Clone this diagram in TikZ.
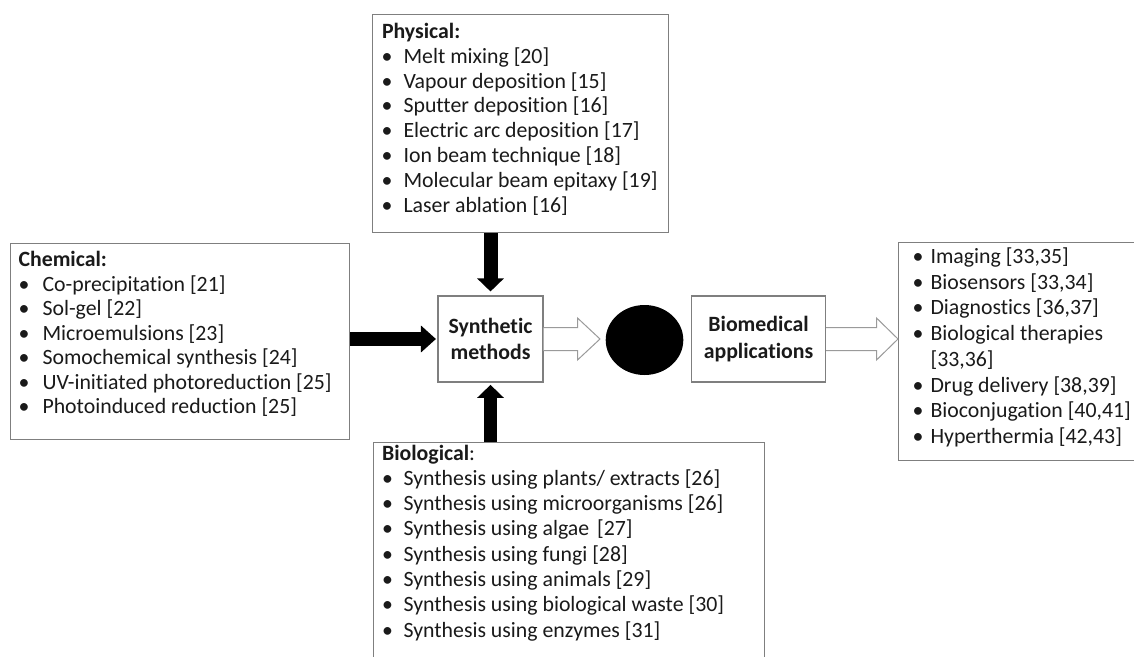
\documentclass[tikz,border=0pt]{standalone}
\usepackage{fontspec}
\setmainfont{Carlito}[Ligatures=NoCommon]
\usetikzlibrary{arrows.meta,calc,shapes.geometric}
\definecolor{bordc}{HTML}{7F7F7F}
\definecolor{arrc}{HTML}{9A9A9A}
\definecolor{txtc}{HTML}{1A1A1A}
\newcommand{\itm}[3]{\mbox{\makebox[#2][l]{\hspace*{#1}\textbullet}#3}\par}
\newcommand{\boxtext}[4]{\parbox[t][#2][t]{#1}{\fontsize{21.8pt}{#3}\selectfont\parindent=0pt\parskip=0pt\raggedright #4}}
\begin{document}
\begin{tikzpicture}[x=1pt,y=-1pt,
  every node/.style={text=txtc},
  box/.style={draw=bordc, line width=1.1pt, inner sep=0pt, anchor=north west, fill=white},
  mid/.style={draw=bordc, line width=1.1pt, inner sep=0pt, align=center, fill=white,
    font=\fontsize{21.8pt}{26.5pt}\selectfont\bfseries},
  solidarrow/.style={line width=14pt, draw=black, -{Triangle[width=26pt,length=13pt]}},
  hollow/.style={draw=arrc, line width=1pt, fill=white, line join=miter}]
\useasboundingbox (0,0) rectangle (1134,656);
\clip (0,0) rectangle (1134,656);

\node[box] (phys) at (372,14) {\boxtext{296pt}{218pt}{24.8pt}{%
\rule{0pt}{24pt}\hspace*{9.5pt}\textbf{Physical:}\par
\itm{9pt}{31pt}{Melt mixing [20]}
\itm{9pt}{31pt}{Vapour deposition [15]}
\itm{9pt}{31pt}{Sputter deposition [16]}
\itm{9pt}{31pt}{Electric arc deposition [17]}
\itm{9pt}{31pt}{Ion beam technique [18]}
\itm{9pt}{31pt}{Molecular beam epitaxy [19]}
\itm{9pt}{31pt}{Laser ablation [16]}}};

\node[box] (chem) at (10,243.3) {\boxtext{339pt}{196pt}{24.5pt}{%
\rule{0pt}{23pt}\hspace*{8pt}\textbf{Chemical:}\par
\itm{8pt}{32pt}{Co-precipitation [21]}
\itm{8pt}{32pt}{Sol-gel [22]}
\itm{8pt}{32pt}{Microemulsions [23]}
\itm{8pt}{32pt}{Somochemical synthesis [24]}
\itm{8pt}{32pt}{UV-initiated photoreduction [25]}
\itm{8pt}{32pt}{Photoinduced reduction [25]}}};

\node[box] (biol) at (373,442) {\boxtext{391pt}{223pt}{25.3pt}{%
\rule{0pt}{17.5pt}\hspace*{8.5pt}\textbf{Biological}:\par
\itm{8.5pt}{30pt}{Synthesis using plants/ extracts [26]}
\itm{8.5pt}{30pt}{Synthesis using microorganisms [26]}
\itm{8.5pt}{30pt}{Synthesis using algae\hspace{3pt} [27]}
\itm{8.5pt}{30pt}{Synthesis using fungi [28]}
\itm{8.5pt}{30pt}{Synthesis using animals [29]}
\itm{8.5pt}{30pt}{Synthesis using biological waste [30]}
\itm{8.5pt}{30pt}{Synthesis using enzymes [31]}}};

\node[box] (apps) at (898,241.7) {\boxtext{242pt}{218.3pt}{25.7pt}{%
\rule{0pt}{21.3pt}\itm{14pt}{32pt}{Imaging [33,35]}
\itm{14pt}{32pt}{Biosensors [33,34]}
\itm{14pt}{32pt}{Diagnostics [36,37]}
\itm{14pt}{32pt}{Biological therapies}
\hspace*{32pt}[33,36]\par
\itm{14pt}{32pt}{Drug delivery [38,39]}
\itm{14pt}{32pt}{Bioconjugation [40,41]}
\itm{14pt}{32pt}{Hyperthermia [42,43]}}};

\node[mid, minimum width=105pt, minimum height=86pt] (syn) at (490.5,339) {Synthetic\\methods};
\node[mid, minimum width=134pt, minimum height=86pt] (bmed) at (758.5,339) {Biomedical\\applications};
\node[ellipse, fill=black, inner sep=0pt, minimum width=77.6pt, minimum height=70pt] (dot) at (644.5,340) {};

\draw[solidarrow, shorten >=4pt] (syn.north |- phys.south) -- (syn.north);
\draw[solidarrow, line width=13pt, shorten >=2.3pt] (syn.south |- biol.north) -- (syn.south);
\draw[solidarrow, -{Triangle[width=26pt,length=15pt]}, shorten >=1.5pt] (chem.east |- syn.west) -- (syn.west);

\coordinate (t1) at ($(syn.east -| dot.west)+(-5.5,0)$);
\draw[hollow] ($(syn.east)+(0,-11.5)$) -- ($(t1)+(-22.5,-11.5)$) -- ($(t1)+(-22.5,-21)$) -- (t1)
  -- ($(t1)+(-22.5,21)$) -- ($(t1)+(-22.5,11.5)$) -- ($(syn.east)+(0,11.5)$);
\coordinate (t2) at (bmed.east -| apps.west);
\draw[hollow] ($(bmed.east)+(0,-11.5)$) -- ($(t2)+(-21.5,-11.5)$) -- ($(t2)+(-21.5,-21)$) -- (t2)
  -- ($(t2)+(-21.5,21)$) -- ($(t2)+(-21.5,11.5)$) -- ($(bmed.east)+(0,11.5)$);
\end{tikzpicture}
\end{document}
